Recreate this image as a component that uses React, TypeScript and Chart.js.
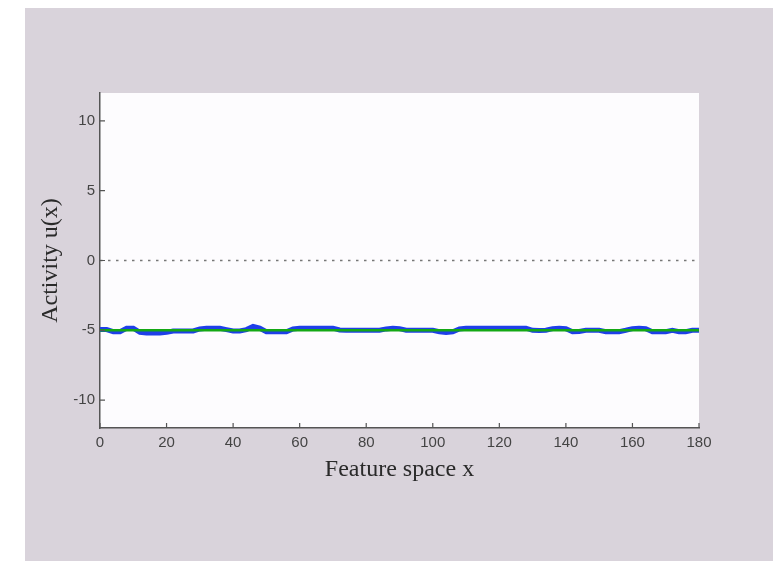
import React, { useEffect, useRef } from "react";
import { Chart, registerables } from "chart.js";

Chart.register(...registerables);

// Feature positions (x) for the activity trace
const featureX: number[] = [
  0, 2, 4, 6, 8, 10, 12, 14, 16, 18, 20, 22, 24, 26, 28, 30, 32, 34, 36, 38,
  40, 42, 44, 46, 48, 50, 52, 54, 56, 58, 60, 62, 64, 66, 68, 70, 72, 74, 76, 78,
  80, 82, 84, 86, 88, 90, 92, 94, 96, 98, 100, 102, 104, 106, 108, 110, 112, 114, 116, 118,
  120, 122, 124, 126, 128, 130, 132, 134, 136, 138, 140, 142, 144, 146, 148, 150, 152, 154, 156, 158,
  160, 162, 164, 166, 168, 170, 172, 174, 176, 178, 180,
];

// Blue trace: activity u(x)
const activityBlue: number[] = [
  -4.95, -4.95, -5.1, -5.1, -4.85, -4.85, -5.15, -5.2, -5.2, -5.2,
  -5.15, -5.05, -5.05, -5.05, -5.05, -4.9, -4.85, -4.85, -4.85, -4.95,
  -5.05, -5.05, -4.95, -4.72, -4.85, -5.1, -5.1, -5.1, -5.1, -4.9,
  -4.85, -4.85, -4.85, -4.85, -4.85, -4.85, -4.98, -5.0, -5.0, -5.0,
  -5.0, -5.0, -5.0, -4.9, -4.85, -4.88, -5.0, -5.0, -5.0, -5.0,
  -5.0, -5.1, -5.15, -5.1, -4.9, -4.85, -4.85, -4.85, -4.85, -4.85,
  -4.85, -4.85, -4.85, -4.85, -4.85, -5.0, -5.02, -5.0, -4.88, -4.85,
  -4.88, -5.1, -5.08, -5.0, -5.0, -5.0, -5.1, -5.1, -5.1, -5.0,
  -4.88, -4.85, -4.88, -5.1, -5.1, -5.1, -5.0, -5.1, -5.1, -5.0,
  -5.0,
];

// Green trace: resting level
const restX: number[] = [0, 180];
const restGreen: number[] = [-5, -5];

// Dotted zero reference
const zeroX: number[] = [0, 180];
const zeroY: number[] = [0, 0];

// Tick values
const xTicks: number[] = [0, 20, 40, 60, 80, 100, 120, 140, 160, 180];
const yTicks: number[] = [-10, -5, 0, 5, 10];

const xTitle = "Feature space x";
const yTitle = "Activity u(x)";

const toPoints = (xs: number[], ys: number[]) => xs.map((x, i) => ({ x, y: ys[i] }));

export default function App() {
  const canvasRef = useRef<HTMLCanvasElement | null>(null);

  useEffect(() => {
    const canvas = canvasRef.current;
    if (!canvas) return;

    const plotBg = {
      id: "plotBg",
      beforeDraw(chart: any) {
        const { ctx, chartArea } = chart;
        ctx.save();
        ctx.fillStyle = "#fdfcfe";
        ctx.fillRect(chartArea.left, chartArea.top, chartArea.right - chartArea.left, chartArea.bottom - chartArea.top);
        ctx.restore();
      },
    };

    const innerTicks = {
      id: "innerTicks",
      afterDraw(chart: any) {
        const { ctx, chartArea } = chart;
        const xs = chart.scales.x;
        const ys = chart.scales.y;
        ctx.save();
        ctx.strokeStyle = "#555";
        ctx.lineWidth = 1.2;
        ctx.beginPath();
        xTicks.forEach((v) => {
          const px = xs.getPixelForValue(v);
          ctx.moveTo(px, chartArea.bottom);
          ctx.lineTo(px, chartArea.bottom - 5);
        });
        yTicks.forEach((v) => {
          const py = ys.getPixelForValue(v);
          ctx.moveTo(chartArea.left, py);
          ctx.lineTo(chartArea.left + 5, py);
        });
        ctx.stroke();
        ctx.restore();
      },
    };

    const tickFont = { family: "'Liberation Sans', Arial, sans-serif", size: 15 };
    const titleFont = { family: "'Liberation Serif', 'Times New Roman', serif", size: 24, lineHeight: 1.2 };

    const chart = new Chart(canvas, {
      type: "line",
      data: {
        datasets: [
          {
            label: "rest",
            data: toPoints(restX, restGreen),
            borderColor: "#14a814",
            borderWidth: 2.5,
            pointRadius: 0,
            order: 0,
          },
          {
            label: "activity",
            data: toPoints(featureX, activityBlue),
            borderColor: "#1f3fe8",
            borderWidth: 5,
            pointRadius: 0,
            order: 1,
          },
          {
            label: "zero",
            data: toPoints(zeroX, zeroY),
            borderColor: "#777",
            borderWidth: 1.5,
            borderDash: [2.5, 5.5],
            pointRadius: 0,
            order: 2,
          },
        ],
      },
      options: {
        animation: false,
        responsive: false,
        maintainAspectRatio: false,
        layout: { padding: { top: 93, right: 81, left: 0, bottom: 0 } },
        plugins: {
          legend: { display: false },
          tooltip: { enabled: false },
        },
        scales: {
          x: {
            type: "linear",
            min: 0,
            max: 180,
            afterBuildTicks: (scale: any) => {
              scale.ticks = xTicks.map((v) => ({ value: v }));
            },
            afterFit: (scale: any) => {
              scale.height = 133;
            },
            grid: { display: true, drawOnChartArea: false, drawTicks: false },
            border: { display: true, color: "#555", width: 1.5 },
            ticks: { font: tickFont, color: "#444", padding: 6, maxRotation: 0, autoSkip: false },
            title: {
              display: true,
              text: xTitle,
              font: titleFont,
              color: "#2a2a2a",
              padding: { top: 0, bottom: 76.6 },
            },
          },
          y: {
            type: "linear",
            min: -12,
            max: 12,
            afterBuildTicks: (scale: any) => {
              scale.ticks = yTicks.map((v) => ({ value: v }));
            },
            afterFit: (scale: any) => {
              scale.width = 100;
            },
            grid: { display: true, drawOnChartArea: false, drawTicks: false },
            border: { display: true, color: "#555", width: 1.5 },
            ticks: { font: tickFont, color: "#444", padding: 5, autoSkip: false },
            title: {
              display: true,
              text: yTitle,
              font: titleFont,
              color: "#2a2a2a",
              padding: { top: 36.1, bottom: 0 },
            },
          },
        },
      },
      plugins: [plotBg, innerTicks],
    } as any);

    return () => chart.destroy();
  }, []);

  return (
    <div style={{ position: "fixed", left: 0, top: 0, width: 780, height: 561, background: "#ffffff" }}>
      <div style={{ position: "absolute", left: 25, top: 8, width: 748, height: 553, background: "#d9d3db" }} />
      <canvas
        ref={canvasRef}
        width={780}
        height={561}
        style={{ position: "absolute", left: 0, top: 0, width: 780, height: 561 }}
      />
    </div>
  );
}
